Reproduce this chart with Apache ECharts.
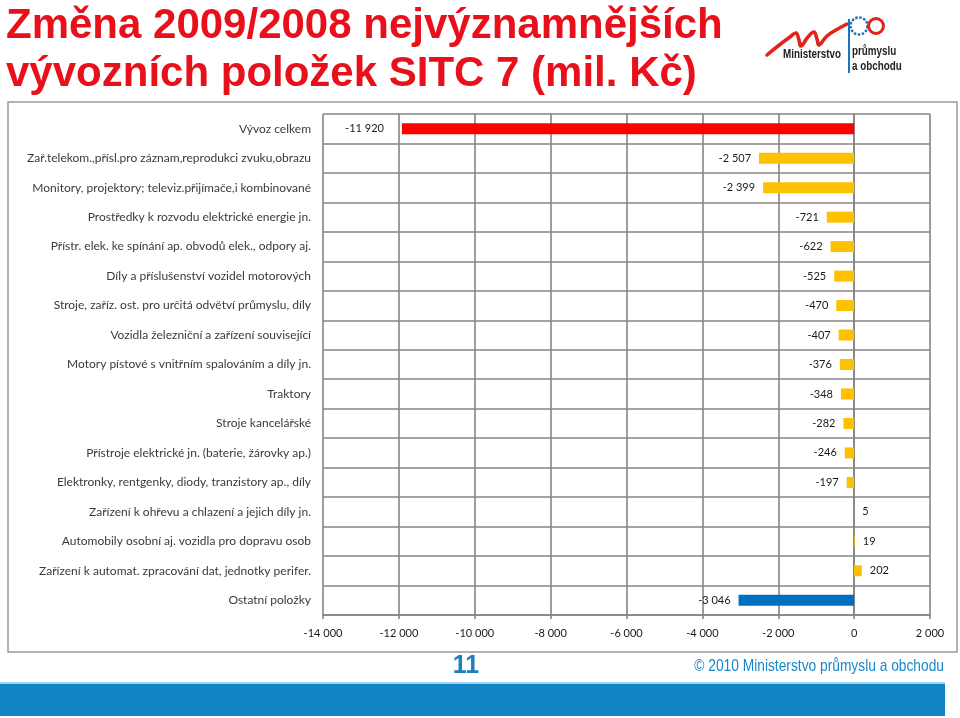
<!DOCTYPE html>
<html>
<head>
<meta charset="utf-8">
<script src="https://cdn.jsdelivr.net/npm/echarts@6/dist/echarts.min.js"></script>
<style>html,body{margin:0;padding:0;background:#fff;}#c{width:960px;height:718px;}</style>
</head>
<body>
<div id="c"></div>
<script>
const categories = [
  'Vývoz celkem',
  'Zař.telekom.,přísl.pro záznam,reprodukci zvuku,obrazu',
  'Monitory, projektory; televiz.přijímače,i kombinované',
  'Prostředky k rozvodu elektrické energie jn.',
  'Přístr. elek. ke spínání ap. obvodů elek., odpory aj.',
  'Díly a příslušenství vozidel motorových',
  'Stroje, zaříz. ost. pro určitá odvětví průmyslu, díly',
  'Vozidla železniční a zařízení související',
  'Motory pístové s vnitřním spalováním a díly jn.',
  'Traktory',
  'Stroje kancelářské',
  'Přístroje elektrické jn. (baterie, žárovky ap.)',
  'Elektronky, rentgenky, diody, tranzistory ap., díly',
  'Zařízení k ohřevu a chlazení a jejich díly jn.',
  'Automobily osobní aj. vozidla pro dopravu osob',
  'Zařízení k automat. zpracování dat, jednotky perifer.',
  'Ostatní položky'
];
const values = [-11920, -2507, -2399, -721, -622, -525, -470, -407, -376, -348, -282, -246, -197, 5, 19, 202, -3046];
const axisMin = -14000, axisMax = 2000, axisStep = 2000;
const titleLines = ['Změna 2009/2008 nejvýznamnějších', 'vývozních položek SITC 7 (mil. Kč)'];
const pageNumber = '11';
const copyright = '© 2010 Ministerstvo průmyslu a obchodu';

function fmt(v) {
  const s = Math.abs(v).toString().replace(/\B(?=(\d{3})+(?!\d))/g, ' ');
  return (v < 0 ? '-' : '') + s;
}
function barColor(name) {
  if (name === 'Vývoz celkem') return '#FF0000';
  if (name === 'Ostatní položky') return '#0070C0';
  return '#FFC000';
}

const FONT = 'Lato, "Open Sans", sans-serif';
const data = values.map((v, i) => ({
  value: v,
  itemStyle: { color: barColor(categories[i]) },
  label: {
    position: v < 0 ? 'left' : 'right',
    distance: i === 0 ? 18 : 8
  }
}));

const NARROW = 'bold 12px "Liberation Sans", Arial, sans-serif';
const chart = echarts.init(document.getElementById('c'), null, { renderer: 'canvas' });
chart.setOption({
  animation: false,
  backgroundColor: '#fff',
  grid: { left: 323, top: 114, width: 607, height: 501, containLabel: false },
  xAxis: {
    type: 'value', min: axisMin, max: axisMax, interval: axisStep,
    axisLine: { show: true, lineStyle: { color: '#858585', width: 1.6 } },
    axisTick: { show: true, length: 4, lineStyle: { color: '#858585', width: 1.6 } },
    splitLine: { show: true, lineStyle: { color: '#858585', width: 1.6 } },
    axisLabel: { color: '#1a1a1a', fontFamily: FONT, fontSize: 11, margin: 13, formatter: fmt }
  },
  yAxis: {
    type: 'category', inverse: true, data: categories,
    axisLine: { show: true, lineStyle: { color: '#858585', width: 1.6 } },
    axisTick: { show: false },
    splitLine: { show: true, lineStyle: { color: '#858585', width: 1.6 } },
    axisLabel: { color: '#3a3a3a', fontFamily: FONT, fontSize: 12, margin: 12, interval: 0 }
  },
  series: [{
    type: 'bar', data: data, barWidth: 11,
    label: { show: true, color: '#1a1a1a', fontFamily: FONT, fontSize: 11, formatter: p => fmt(p.value) }
  }],
  graphic: [
    { type: 'rect', z: -10, silent: true, shape: { x: 8, y: 102, width: 949, height: 550 },
      style: { fill: 'none', stroke: '#9a9a9a', lineWidth: 1.5 } },
    { type: 'text', left: 6, top: 5, style: { text: titleLines[0], font: 'bold 42px "Liberation Sans", Arial, sans-serif', fill: '#E8101A' } },
    { type: 'text', left: 6, top: 53, style: { text: titleLines[1], font: 'bold 42px "Liberation Sans", Arial, sans-serif', fill: '#E8101A' } },
    // logo
    { type: 'polyline', silent: true, shape: { points: [[767,55],[778,46],[790,37],[796,33],[799,40],[801,46],[808,37],[814,32],[817,39],[819,45],[827,36],[836,30],[847,24]], smooth: 0.4 },
      style: { stroke: '#E2231A', lineWidth: 3.5, fill: 'none', lineCap: 'round', lineJoin: 'round' } },
    { type: 'line', silent: true, shape: { x1: 849, y1: 19, x2: 849, y2: 73 }, style: { stroke: '#1C75BC', lineWidth: 2 } },
    { type: 'circle', silent: true, shape: { cx: 859, cy: 26, r: 8.5 }, style: { fill: 'none', stroke: '#1C75BC', lineWidth: 2.5, lineDash: [2.5, 1.5] } },
    { type: 'circle', silent: true, shape: { cx: 876, cy: 26, r: 7.5 }, style: { fill: 'none', stroke: '#E2231A', lineWidth: 3 } },
    { type: 'text', x: 783, y: 55, scaleX: 0.82, style: { text: 'Ministerstvo', font: NARROW, fill: '#222', verticalAlign: 'middle' } },
    { type: 'text', x: 852, y: 52, scaleX: 0.82, style: { text: 'průmyslu', font: NARROW, fill: '#222', verticalAlign: 'middle' } },
    { type: 'text', x: 852, y: 67, scaleX: 0.82, style: { text: 'a obchodu', font: NARROW, fill: '#222', verticalAlign: 'middle' } },
    // footer
    { type: 'rect', silent: true, shape: { x: 0, y: 682, width: 945, height: 2 }, style: { fill: '#9fd3ee' } },
    { type: 'rect', silent: true, shape: { x: 0, y: 684, width: 945, height: 32 }, style: { fill: '#1185C3' } },
    { type: 'text', x: 466, y: 666, style: { text: pageNumber, font: 'bold 25px "Liberation Sans", Arial, sans-serif', fill: '#1B7FC0', align: 'center', verticalAlign: 'middle' } },
    { type: 'text', x: 944, y: 666, scaleX: 0.81, style: { text: copyright, font: '17px "Liberation Sans", Arial, sans-serif', fill: '#1B87C9', align: 'right', verticalAlign: 'middle' } }
  ]
});
</script>
</body>
</html>
